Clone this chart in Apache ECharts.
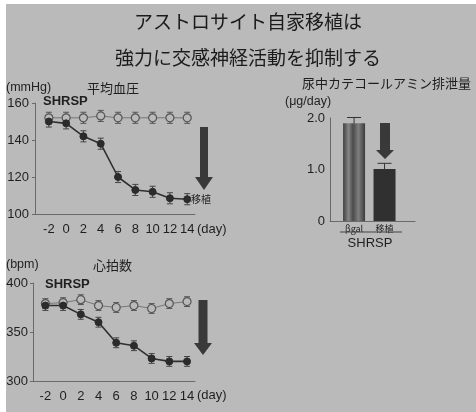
<!DOCTYPE html>
<html>
<head>
<meta charset="utf-8">
<script src="https://cdn.jsdelivr.net/npm/echarts@6/dist/echarts.min.js"></script>
<style>
html, body { margin: 0; padding: 0; background: #fff; }
#c { width: 476px; height: 412px; }
</style>
</head>
<body>
<div id="c"></div>
<script>
// Days after transplantation
const days = [-2, 0, 2, 4, 6, 8, 10, 12, 14];

// Mean arterial pressure (mmHg)
const bpControl    = [152, 152, 152, 153, 152, 152, 152, 152, 152];
const bpTransplant = [150, 149, 142, 138, 120, 113, 112, 108.5, 108];
const bpErr = 3;
const bpTicks = [100, 120, 140, 160];

// Heart rate (bpm)
const hrControl    = [379, 380, 383, 377, 375, 377, 374, 379, 381];
const hrTransplant = [377, 377, 368, 360, 339, 336, 323, 320, 320];
const hrErr = 5;
const hrTicks = [300, 350, 400];

// Urinary catecholamine excretion (µg/day)
const caCategories = ['βgal', '移植'];
const caValues = [1.9, 1.01];
const caErr = [0.11, 0.11];
const caTicks = [0, 1.0, 2.0];

const BG = '#b9bab9';
const INK = '#1f1f1f';
const AXIS = '#6a6a6a';
const FONT = 'Liberation Sans, Arial, sans-serif';
const JFONT = '"Noto Sans CJK JP", sans-serif';

const chart = echarts.init(document.getElementById('c'), null, { renderer: 'canvas' });

function errorBarSeries(name, xAxisIndex, yAxisIndex, xs, ys, errs, capHalf, both, color) {
  return {
    name: name,
    type: 'custom',
    xAxisIndex: xAxisIndex,
    yAxisIndex: yAxisIndex,
    z: 1,
    silent: true,
    data: xs.map((x, i) => [x, ys[i], Array.isArray(errs) ? errs[i] : errs]),
    renderItem: function (params, api) {
      const x = api.value(0), y = api.value(1), e = api.value(2);
      const top = api.coord([x, y + e]);
      const bot = api.coord([x, both ? y - e : y]);
      const st = { stroke: color, lineWidth: 1 };
      const kids = [
        { type: 'line', shape: { x1: top[0], y1: top[1], x2: bot[0], y2: bot[1] }, style: st },
        { type: 'line', shape: { x1: top[0] - capHalf, y1: top[1], x2: top[0] + capHalf, y2: top[1] }, style: st }
      ];
      if (both) {
        kids.push({ type: 'line', shape: { x1: bot[0] - capHalf, y1: bot[1], x2: bot[0] + capHalf, y2: bot[1] }, style: st });
      }
      return { type: 'group', children: kids };
    }
  };
}

function lineSeries(name, xAxisIndex, yAxisIndex, ys, open) {
  return {
    name: name,
    type: 'line',
    xAxisIndex: xAxisIndex,
    yAxisIndex: yAxisIndex,
    z: 3,
    data: days.map((d, i) => [d, ys[i]]),
    symbol: 'circle',
    symbolSize: open ? 8 : 7,
    lineStyle: { color: open ? '#777' : '#2f2f2f', width: open ? 1 : 1.6 },
    itemStyle: open
      ? { color: BG, borderColor: '#555', borderWidth: 1.2 }
      : { color: '#2b2b2b', borderColor: '#2b2b2b', borderWidth: 1 },
    animation: false
  };
}

function arrow(cx, yTop, headStart, tip, shaftHalf, headHalf) {
  return {
    type: 'polygon',
    shape: {
      points: [
        [cx - shaftHalf, yTop], [cx + shaftHalf, yTop], [cx + shaftHalf, headStart],
        [cx + headHalf, headStart], [cx, tip], [cx - headHalf, headStart],
        [cx - shaftHalf, headStart]
      ]
    },
    style: { fill: '#383938' },
    z: 10
  };
}

function text(str, x, y, size, opts) {
  return {
    type: 'text',
    z: 10,
    style: Object.assign({
      text: str, x: x, y: y, fill: INK,
      font: size + 'px ' + JFONT,
      textAlign: 'left', textVerticalAlign: 'middle'
    }, opts || {})
  };
}

const dayAxisCommon = {
  type: 'value',
  min: -3.6,
  max: 14.9,
  axisLine: { show: true, onZero: false, lineStyle: { color: AXIS, width: 1 } },
  axisTick: { show: false },
  splitLine: { show: false },
  axisLabel: {
    customValues: days,
    color: INK,
    fontSize: 13,
    fontFamily: FONT,
    margin: 9
  }
};

const valueAxisCommon = {
  type: 'value',
  axisLine: { show: true, onZero: false, lineStyle: { color: AXIS } },
  axisTick: { show: true, length: 3, lineStyle: { color: AXIS } },
  splitLine: { show: false }
};

const option = {
  backgroundColor: '#fff',
  animation: false,
  grid: [
    { left: 35, top: 103, width: 160, height: 111 },   // mean BP
    { left: 33, top: 283, width: 162, height: 98 },    // heart rate
    { left: 330, top: 118, width: 85, height: 103 }    // catecholamines
  ],
  xAxis: [
    Object.assign({}, dayAxisCommon, { gridIndex: 0 }),
    Object.assign({}, dayAxisCommon, { gridIndex: 1, min: -3.4 }),
    {
      type: 'value', gridIndex: 2, min: -0.79, max: 2.0,
      axisLine: { show: true, onZero: false, lineStyle: { color: AXIS, width: 1 } },
      axisTick: { show: false },
      splitLine: { show: false },
      axisLabel: {
        customValues: [0, 1],
        formatter: v => caCategories[Math.round(v)],
        color: INK, fontSize: 9, fontFamily: JFONT, margin: 3
      }
    }
  ],
  yAxis: [
    Object.assign({}, valueAxisCommon, {
      gridIndex: 0, min: 100, max: 160, interval: 20,
      axisLabel: { customValues: bpTicks, color: INK, fontSize: 13, fontFamily: FONT, margin: 6 }
    }),
    Object.assign({}, valueAxisCommon, {
      gridIndex: 1, min: 300, max: 400, interval: 50,
      axisLabel: { customValues: hrTicks, color: INK, fontSize: 13, fontFamily: FONT, margin: 5 }
    }),
    Object.assign({}, valueAxisCommon, {
      gridIndex: 2, min: 0, max: 2, interval: 1,
      axisTick: { show: false },
      axisLabel: {
        customValues: caTicks,
        color: INK, fontSize: 13, fontFamily: FONT, margin: 5,
        formatter: v => (v === 0 ? '0' : v.toFixed(1))
      }
    })
  ],
  series: [
    errorBarSeries('bpCtrlErr', 0, 0, days, bpControl, bpErr, 3, true, '#555'),
    errorBarSeries('bpTxErr', 0, 0, days, bpTransplant, bpErr, 3, true, '#444'),
    lineSeries('bpControl', 0, 0, bpControl, true),
    lineSeries('bpTransplant', 0, 0, bpTransplant, false),

    errorBarSeries('hrCtrlErr', 1, 1, days, hrControl, hrErr, 3, true, '#555'),
    errorBarSeries('hrTxErr', 1, 1, days, hrTransplant, hrErr, 3, true, '#444'),
    lineSeries('hrControl', 1, 1, hrControl, true),
    lineSeries('hrTransplant', 1, 1, hrTransplant, false),

    {
      name: 'catecholamine',
      type: 'bar',
      xAxisIndex: 2,
      yAxisIndex: 2,
      barWidth: 22,
      z: 2,
      data: caValues.map((v, i) => ({
        value: [i, v],
        itemStyle: i === 0
          ? {
              color: new echarts.graphic.LinearGradient(0, 0, 1, 0, [
                { offset: 0, color: '#3e3f3e' },
                { offset: 0.25, color: '#858685' },
                { offset: 0.45, color: '#4a4b4a' },
                { offset: 0.7, color: '#7d7e7d' },
                { offset: 1, color: '#3a3b3a' }
              ])
            }
          : { color: '#2f302f' }
      }))
    },
    errorBarSeries('caErr', 2, 2, [0, 1], caValues, caErr, 7, false, '#333')
  ],
  graphic: [
    // slide background
    { type: 'rect', shape: { x: 6, y: 4, width: 470, height: 408 }, style: { fill: BG }, z: -10 },

    // headline
    text('アストロサイト自家移植は', 248, 22, 19, { textAlign: 'center', fill: '#1b1b1b' }),
    text('強力に交感神経活動を抑制する', 248, 58, 19, { textAlign: 'center', fill: '#1b1b1b' }),

    // mean BP panel
    text('(mmHg)', 6, 88, 12.5, { font: '12.5px ' + FONT }),
    text('平均血圧', 87, 88, 13),
    text('SHRSP', 43, 101, 13, { font: 'bold 13px ' + FONT }),
    text('(day)', 197, 229, 13, { font: '13px ' + FONT }),
    text('移植', 191, 199, 10),
    arrow(204, 127, 177, 190, 4, 9),

    // heart rate panel
    text('(bpm)', 6, 265, 12.5, { font: '12.5px ' + FONT }),
    text('心拍数', 93, 265, 13),
    text('SHRSP', 45, 284, 13, { font: 'bold 13px ' + FONT }),
    text('(day)', 197, 395, 13, { font: '13px ' + FONT }),
    arrow(203, 300, 343, 355, 4.5, 9),

    // catecholamine panel
    text('尿中カテコールアミン排泄量', 302, 83, 13),
    text('(μg/day)', 285, 102, 12.5, { font: '12.5px ' + FONT }),
    { type: 'line', shape: { x1: 340, y1: 232, x2: 402, y2: 232 }, style: { stroke: '#444', lineWidth: 1 }, z: 10 },
    text('SHRSP', 370, 243, 13, { font: '13px ' + FONT, textAlign: 'center' }),
    arrow(385, 123, 150, 159, 5, 9)
  ]
};

chart.setOption(option);
</script>
</body>
</html>
